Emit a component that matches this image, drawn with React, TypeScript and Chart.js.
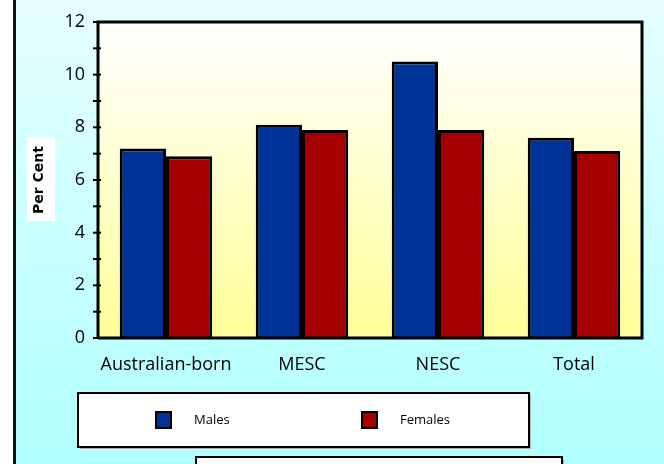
import React, { useEffect, useRef } from "react";
import { Chart, registerables } from "chart.js";

Chart.register(...registerables);

const categories = ["Australian-born", "MESC", "NESC", "Total"];
const males = [7.2, 8.1, 10.5, 7.6];
const females = [6.9, 7.9, 7.9, 7.1];
const seriesLabels = ["Males", "Females"];
const yTitle = "Per Cent";

const BLUE = "#003399";
const RED = "#A50000";

const decorPlugin = {
  id: "decor",
  beforeDraw(chart: any) {
    const { ctx, chartArea: a, width, height } = chart;
    ctx.save();
    ctx.fillStyle = "#ffffff";
    ctx.fillRect(0, 0, 14, height);
    const g = ctx.createLinearGradient(0, 0, 0, height);
    g.addColorStop(0, "#E6FFFF");
    g.addColorStop(1, "#B0FFFF");
    ctx.fillStyle = g;
    ctx.fillRect(14, 0, width - 14, height);
    ctx.fillStyle = "#111111";
    ctx.fillRect(13, 0, 3, height);
    const pg = ctx.createLinearGradient(0, a.top, 0, a.bottom);
    pg.addColorStop(0, "#FFFFFF");
    pg.addColorStop(1, "#FFFF99");
    ctx.fillStyle = pg;
    ctx.fillRect(a.left, a.top, a.right - a.left, a.bottom - a.top);
    ctx.fillStyle = "#FFFFFF";
    ctx.fillRect(27, 137, 28, 84);
    ctx.restore();
  },
  afterDatasetsDraw(chart: any) {
    const { ctx, chartArea: a } = chart;
    ctx.save();
    ctx.strokeStyle = "#000000";
    ctx.lineWidth = 3;
    ctx.beginPath();
    ctx.moveTo(a.left, a.bottom);
    ctx.lineTo(a.left, a.top);
    ctx.lineTo(a.right, a.top);
    ctx.lineTo(a.right, a.bottom);
    ctx.lineTo(a.left, a.bottom);
    ctx.stroke();
    const ys = chart.scales.y;
    ctx.lineWidth = 2;
    for (let v = ys.min; v <= ys.max; v += 1) {
      const y = ys.getPixelForValue(v);
      ctx.beginPath();
      ctx.moveTo(a.left - 5, y);
      ctx.lineTo(a.left + 3, y);
      ctx.stroke();
    }
    ctx.restore();
  },
  afterDraw(chart: any) {
    const { ctx } = chart;
    ctx.save();
    const lx = 78, ly = 393, lw = 451, lh = 54;
    ctx.fillStyle = "#B0B0B0";
    ctx.fillRect(lx + 2, ly + 2, lw, lh);
    ctx.fillStyle = "#FFFFFF";
    ctx.fillRect(lx, ly, lw, lh);
    ctx.lineWidth = 2;
    ctx.strokeStyle = "#000000";
    ctx.strokeRect(lx, ly, lw, lh);

    const ds = chart.data.datasets;
    const itemX = [156, 362];
    ctx.font = "13px 'Open Sans', sans-serif";
    ctx.textBaseline = "middle";
    ds.forEach((d: any, i: number) => {
      const x = itemX[i];
      const y = 412;
      ctx.fillStyle = d.backgroundColor;
      ctx.fillRect(x + 1, y + 1, 15, 16);
      ctx.fillRect(x, y, 15, 16);
      ctx.lineWidth = 2;
      ctx.strokeStyle = "#000000";
      ctx.strokeRect(x, y, 15, 16);
      ctx.fillStyle = "#000000";
      ctx.fillText(d.label, x + 38, y + 8);
    });

    const bx = 196, by = 457, bw = 366, bh = 30;
    ctx.fillStyle = "#B0B0B0";
    ctx.fillRect(bx + 2, by + 2, bw, bh);
    ctx.fillStyle = "#FFFFFF";
    ctx.fillRect(bx, by, bw, bh);
    ctx.lineWidth = 2;
    ctx.strokeStyle = "#000000";
    ctx.strokeRect(bx, by, bw, bh);
    ctx.restore();
  },
};

export default function App() {
  const ref = useRef<HTMLCanvasElement | null>(null);
  useEffect(() => {
    document.body.style.margin = "0";
    const chart = new Chart(ref.current as HTMLCanvasElement, {
      type: "bar",
      data: {
        labels: categories,
        datasets: [
          {
            label: seriesLabels[0],
            data: males,
            backgroundColor: BLUE,
            borderColor: "#000000",
            borderWidth: 3,
            borderSkipped: "bottom",
          },
          {
            label: seriesLabels[1],
            data: females,
            backgroundColor: RED,
            borderColor: "#000000",
            borderWidth: 3,
            borderSkipped: "bottom",
          },
        ],
      },
      options: {
        animation: false,
        responsive: false,
        maintainAspectRatio: false,
        layout: { padding: { top: 22, right: 22, left: 0, bottom: 0 } },
        plugins: {
          legend: { display: false },
          tooltip: { enabled: false },
          title: { display: false },
        },
        datasets: { bar: { categoryPercentage: 0.68, barPercentage: 1 } },
        scales: {
          x: {
            grid: { display: false, drawTicks: false },
            border: { display: false },
            ticks: {
              color: "#000000",
              font: { family: "'Open Sans', sans-serif", size: 18 },
              padding: 16,
              maxRotation: 0,
              minRotation: 0,
              autoSkip: false,
            },
            afterFit: (s: any) => {
              s.height = 126;
            },
          },
          y: {
            min: 0,
            max: 12,
            grid: {
              drawOnChartArea: false,
              drawTicks: true,
              tickLength: 6,
              tickColor: "rgba(0,0,0,0)",
            },
            border: { display: false },
            ticks: {
              stepSize: 1,
              color: "#000000",
              padding: 7,
              font: { family: "'Open Sans', sans-serif", size: 18 },
              callback: (v: any) => (Number(v) % 2 === 0 ? String(v) : ""),
            },
            title: {
              display: true,
              text: yTitle,
              color: "#000000",
              font: { family: "'DejaVu Sans', sans-serif", size: 14, weight: "bold" },
              padding: { top: 31, bottom: 0 },
            },
            afterFit: (s: any) => {
              s.width = 98;
            },
          },
        },
      },
      plugins: [decorPlugin],
    } as any);
    return () => chart.destroy();
  }, []);
  return (
    <div style={{ position: "absolute", left: 0, top: 0, width: 664, height: 464 }}>
      <canvas ref={ref} width={664} height={464} style={{ display: "block" }} />
    </div>
  );
}
